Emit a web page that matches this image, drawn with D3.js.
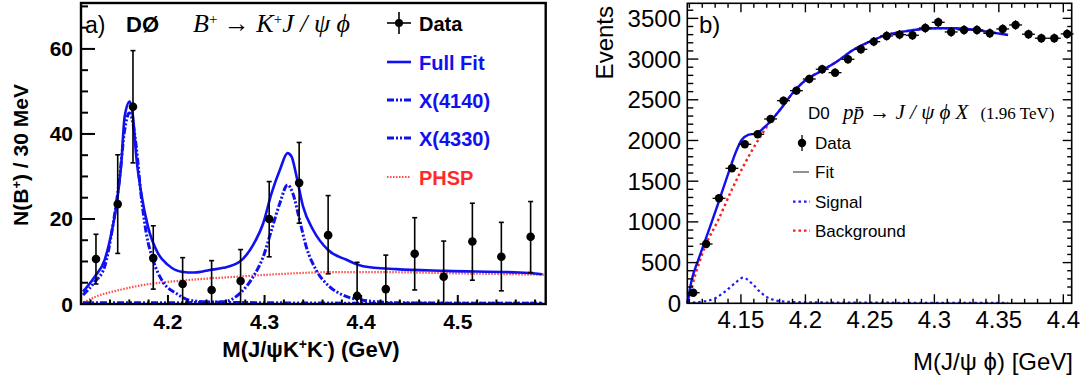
<!DOCTYPE html>
<html><head><meta charset="utf-8">
<script src="https://cdn.jsdelivr.net/npm/d3@7"></script>
<style>
body{margin:0;background:#fff}
svg{display:block}
text{font-family:"Liberation Sans",Arial,Helvetica,sans-serif}
.serif{font-family:"Liberation Serif","DejaVu Serif",serif}
</style>
</head><body>
<svg id="c" width="1082" height="385"></svg>
<script>
// ---------- Panel a data ----------
const aMass   = [4.1255,4.148,4.1638,4.1848,4.2152,4.2452,4.2752,4.3048,4.3358,4.3658,4.3958,4.4255,4.4554,4.4854,4.5151,4.5451,4.5754];
const aCounts = [10.6,23.5,46.4,10.8,4.7,3.3,5.4,20.0,28.5,16.2,1.9,3.5,11.8,6.4,14.7,11.1,15.8];
const aErrHi  = [16.4,35.1,59.6,18.4,10.9,10.2,12.8,28.8,38.0,25.5,9.8,11.5,20.3,14.8,23.7,19.2,24.1];
const aErrLo  = [4.7,11.9,33.2,3.5,0,0,0,11.1,19.0,7.1,0,0,3.3,0,5.6,3.1,7.4];

const aFitM = [4.1121,4.1242,4.1345,4.1414,4.1465,4.1517,4.1552,4.1604,4.1638,4.1672,4.1724,4.1793,4.1897,4.2000,4.2138,4.2276,4.2434,4.2572,4.2745,4.2882,4.2986,4.3072,4.3158,4.3238,4.3279,4.3331,4.3399,4.3503,4.3658,4.3848,4.4020,4.4365,4.4882,4.5640,4.5875];
const aFitV = [2.9,6.4,10.4,16.6,22.9,33.1,44.1,47.6,44.1,34.7,26.0,18.2,11.9,9.2,7.6,7.4,8.0,8.5,10.0,13.9,19.0,26.0,31.5,35.5,34.7,30.0,22.9,17.4,12.7,10.4,8.9,8.2,7.8,7.4,7.0];

const aX4140M = [4.1121,4.1242,4.1345,4.1428,4.1497,4.1552,4.1600,4.1638,4.1672,4.1724,4.1776,4.1845,4.1948,4.2086,4.2224,4.2396,4.30,4.40,4.50,4.5875];
const aX4140V = [2.1,5.2,8.8,18.2,29.2,40.9,44.9,42.5,37.0,25.2,16.6,10.4,5.2,2.5,0.9,0.5,0.3,0.2,0.2,0.2];

const aX4330M = [4.1121,4.20,4.2572,4.2745,4.2882,4.2986,4.3072,4.3158,4.3238,4.3293,4.3362,4.3431,4.3534,4.3672,4.3810,4.4017,4.4365,4.50,4.5875];
const aX4330V = [0.3,0.3,0.5,2.5,6.4,11.1,17.4,23.7,28.0,26.0,19.8,13.5,8.0,4.1,2.1,0.9,0.3,0.2,0.2];

const aPhspM = [4.110,4.125,4.150,4.175,4.200,4.230,4.270,4.320,4.370,4.420,4.500,4.591];
const aPhspV = [0,1.7,3.3,4.5,5.2,5.8,6.4,7.1,7.5,7.5,7.2,6.9];

const aYTicks = [0,20,40,60];
const aXTicks = [4.2,4.3,4.4,4.5];
const aLegend = ["Data","Full Fit","X(4140)","X(4330)","PHSP"];

// ---------- Panel b data ----------
const bMass = [4.113,4.123,4.133,4.143,4.153,4.163,4.173,4.183,4.193,4.203,4.213,4.223,4.233,4.243,4.253,4.263,4.273,4.283,4.293,4.303,4.313,4.323,4.333,4.343,4.353,4.363,4.373,4.383,4.393,4.403];
const bEvents = [130,728,1290,1658,1953,2076,2264,2489,2612,2755,2875,2833,2997,3120,3214,3284,3300,3292,3382,3452,3333,3358,3358,3317,3370,3419,3305,3256,3256,3309];
const bErr = [12,27,36,41,44,46,48,50,51,52,54,53,55,56,57,57,57,57,58,59,58,58,58,58,58,58,57,57,57,58];
const bBinHalf = 0.005;

const bFitM = [4.1084,4.1118,4.1169,4.1247,4.1324,4.1402,4.1467,4.1505,4.1557,4.1622,4.1673,4.1738,4.1800,4.1900,4.2000,4.2112,4.2242,4.2370,4.2500,4.2629,4.2758,4.2888,4.3017,4.3146,4.3275,4.3405,4.3572];
const bFitV = [0,286,532,880,1229,1597,1883,2006,2068,2088,2150,2252,2370,2580,2740,2845,2968,3112,3214,3296,3337,3366,3378,3378,3366,3337,3296];

const bBkgM = [4.1084,4.1150,4.1221,4.1324,4.1428,4.1531,4.1634,4.1738,4.1800,4.1900,4.2000,4.2112,4.2242,4.2370,4.2500,4.2629,4.2758,4.2888,4.3017,4.3146,4.3275,4.3405,4.3572];
const bBkgV = [0,370,695,1023,1392,1720,2006,2252,2370,2580,2740,2845,2968,3112,3214,3296,3337,3366,3378,3378,3366,3337,3296];

const bSigM = [4.1084,4.1195,4.1298,4.1376,4.1453,4.1518,4.1583,4.1660,4.1738,4.1841,4.2000,4.2500,4.3000,4.3572];
const bSigV = [7,20,61,143,246,315,246,123,49,20,12,8,6,5];

const bYTicks = [0,500,1000,1500,2000,2500,3000,3500];
const bXTicks = [4.15,4.2,4.25,4.3,4.35,4.4];
const bXLabels = ["4.15","4.2","4.25","4.3","4.35","4.4"];
const bLegend = ["Data","Fit","Signal","Background"];

// ---------- drawing ----------
const svg = d3.select("#c");
const BLUE = "#1010f0", RED = "#ff2a2a";

// ===== Panel a =====
const ax = d3.scaleLinear().domain([4.110, 4.591]).range([81, 545.7]);
const ay = d3.scaleLinear().domain([0, 70.8]).range([304, 3]);
const ga = svg.append("g");

const lineA = (M, V) => d3.line().x((d,i)=>ax(M[i])).y((d,i)=>ay(V[i])).curve(d3.curveMonotoneX)(M);

ga.append("path").attr("d", lineA(aPhspM, aPhspV)).attr("fill","none").attr("stroke","#ff4a4a").attr("stroke-width",2.2).attr("stroke-dasharray","1.5,1.5");
ga.append("path").attr("d", lineA(aX4330M, aX4330V)).attr("fill","none").attr("stroke",BLUE).attr("stroke-width",3).attr("stroke-dasharray","7,2,2,2,2,2");
ga.append("path").attr("d", lineA(aX4140M, aX4140V)).attr("fill","none").attr("stroke",BLUE).attr("stroke-width",3).attr("stroke-dasharray","7,2,2,2,2,2");
ga.append("path").attr("d", lineA(aFitM, aFitV)).attr("fill","none").attr("stroke",BLUE).attr("stroke-width",2.6);

const da = ga.append("g");
aMass.forEach((m,i)=>{
  const x = ax(m);
  da.append("line").attr("x1",x).attr("x2",x).attr("y1",ay(aErrLo[i])).attr("y2",ay(aErrHi[i])).attr("stroke","#000").attr("stroke-width",1.6);
  da.append("line").attr("x1",x-2.5).attr("x2",x+2.5).attr("y1",ay(aErrHi[i])).attr("y2",ay(aErrHi[i])).attr("stroke","#000").attr("stroke-width",1.6);
  if (aErrLo[i] > 0) da.append("line").attr("x1",x-2.5).attr("x2",x+2.5).attr("y1",ay(aErrLo[i])).attr("y2",ay(aErrLo[i])).attr("stroke","#000").attr("stroke-width",1.6);
  da.append("circle").attr("cx",x).attr("cy",ay(aCounts[i])).attr("r",4.3).attr("fill","#000");
});

ga.append("rect").attr("x",81).attr("y",3).attr("width",545.7-81).attr("height",301).attr("fill","none").attr("stroke","#000").attr("stroke-width",2.4);
d3.range(0, 71, 5).forEach(v=>{
  const major = aYTicks.includes(v);
  ga.append("line").attr("x1",81).attr("x2",81+(major?14:7)).attr("y1",ay(v)).attr("y2",ay(v)).attr("stroke","#000").attr("stroke-width",2);
});
d3.range(4.12, 4.59, 0.02).forEach(v=>{
  const major = aXTicks.some(t=>Math.abs(t-v)<1e-6);
  ga.append("line").attr("x1",ax(v)).attr("x2",ax(v)).attr("y1",304).attr("y2",304-(major?9:4.5)).attr("stroke","#000").attr("stroke-width",2);
});
aYTicks.forEach(v=>{
  ga.append("text").attr("x",73).attr("y",ay(v)+7.5).attr("text-anchor","end").attr("font-weight","bold").attr("font-size",21).text(v);
});
aXTicks.forEach(v=>{
  ga.append("text").attr("x",ax(v)).attr("y",329).attr("text-anchor","middle").attr("font-weight","bold").attr("font-size",21).text(v.toFixed(1));
});

const ylab = ga.append("text").attr("transform","translate(28,155) rotate(-90)").attr("text-anchor","middle").attr("font-weight","bold").attr("font-size",21);
ylab.append("tspan").text("N(B");
ylab.append("tspan").attr("baseline-shift","super").attr("font-size",13).text("+");
ylab.append("tspan").text(") / 30 MeV");

const xlab = ga.append("text").attr("x",311).attr("y",357).attr("text-anchor","middle").attr("font-weight","bold").attr("font-size",22);
xlab.append("tspan").text("M(J/ψK");
xlab.append("tspan").attr("baseline-shift","super").attr("font-size",14).text("+");
xlab.append("tspan").text("K");
xlab.append("tspan").attr("baseline-shift","super").attr("font-size",14).text("-");
xlab.append("tspan").text(") (GeV)");

ga.append("text").attr("x",85).attr("y",33).attr("font-size",23).text("a)");
ga.append("text").attr("x",126).attr("y",32).attr("font-size",22).attr("font-weight","bold").text("DØ");
const fa = ga.append("text").attr("class","serif").attr("x",193).attr("y",32).attr("font-size",26).attr("font-style","italic");
fa.append("tspan").text("B");
fa.append("tspan").attr("baseline-shift","super").attr("font-size",15).attr("font-style","normal").text("+");
fa.append("tspan").attr("font-style","normal").text(" → ");
fa.append("tspan").text("K");
fa.append("tspan").attr("baseline-shift","super").attr("font-size",15).attr("font-style","normal").text("+");
fa.append("tspan").text("J / ψ  ϕ");

const legY = [23, 62, 100, 138, 177];
const legTxtColor = ["#000", BLUE, BLUE, BLUE, RED];
aLegend.forEach((t,i)=>{
  ga.append("text").attr("x",419).attr("y",legY[i]+7.5).attr("font-weight","bold").attr("font-size",20).attr("fill",legTxtColor[i]).text(t);
});
ga.append("line").attr("x1",387).attr("x2",411).attr("y1",legY[0]).attr("y2",legY[0]).attr("stroke","#000").attr("stroke-width",1.6);
ga.append("line").attr("x1",399).attr("x2",399).attr("y1",legY[0]-11).attr("y2",legY[0]+11).attr("stroke","#000").attr("stroke-width",1.6);
ga.append("circle").attr("cx",399).attr("cy",legY[0]).attr("r",4).attr("fill","#000");
ga.append("line").attr("x1",387).attr("x2",411).attr("y1",legY[1]).attr("y2",legY[1]).attr("stroke",BLUE).attr("stroke-width",2.6);
[2,3].forEach(k=>ga.append("line").attr("x1",387).attr("x2",411).attr("y1",legY[k]).attr("y2",legY[k]).attr("stroke",BLUE).attr("stroke-width",3).attr("stroke-dasharray","7,2,2,2,2,2"));
ga.append("line").attr("x1",387).attr("x2",411).attr("y1",legY[4]).attr("y2",legY[4]).attr("stroke","#ff4a4a").attr("stroke-width",2).attr("stroke-dasharray","1.5,1.5");

// ===== Panel b =====
const bx = d3.scaleLinear().domain([4.1084, 4.4065]).range([687.3, 1071.7]);
const by = d3.scaleLinear().domain([0, 3685]).range([303.3, 3.3]);
const gb = svg.append("g");
const lineB = (M, V) => d3.line().x((d,i)=>bx(M[i])).y((d,i)=>by(V[i])).curve(d3.curveMonotoneX)(M);

gb.append("path").attr("d", lineB(bSigM, bSigV)).attr("fill","none").attr("stroke","#1a1aff").attr("stroke-width",2.2).attr("stroke-dasharray","2.5,3");
gb.append("path").attr("d", lineB(bBkgM, bBkgV)).attr("fill","none").attr("stroke","#ff1a1a").attr("stroke-width",2.4).attr("stroke-dasharray","2.5,3");
gb.append("path").attr("d", lineB(bFitM, bFitV)).attr("fill","none").attr("stroke","#1010ee").attr("stroke-width",2.4);

const db = gb.append("g");
bMass.forEach((m,i)=>{
  const x = bx(m), y = by(bEvents[i]);
  db.append("line").attr("x1",bx(m-bBinHalf)).attr("x2",bx(m+bBinHalf)).attr("y1",y).attr("y2",y).attr("stroke","#000").attr("stroke-width",1.3);
  db.append("line").attr("x1",x).attr("x2",x).attr("y1",by(bEvents[i]-bErr[i])).attr("y2",by(bEvents[i]+bErr[i])).attr("stroke","#000").attr("stroke-width",1.3);
  db.append("circle").attr("cx",x).attr("cy",y).attr("r",4.2).attr("fill","#000");
});

gb.append("rect").attr("x",687.3).attr("y",3.3).attr("width",1071.7-687.3).attr("height",300).attr("fill","none").attr("stroke","#000").attr("stroke-width",1.6);
d3.range(0, 3601, 100).forEach(v=>{
  const major = bYTicks.includes(v);
  gb.append("line").attr("x1",687.3).attr("x2",687.3+(major?11:6)).attr("y1",by(v)).attr("y2",by(v)).attr("stroke","#000").attr("stroke-width",1.4);
  gb.append("line").attr("x1",1071.7).attr("x2",1071.7-(major?9:4.5)).attr("y1",by(v)).attr("y2",by(v)).attr("stroke","#000").attr("stroke-width",1.4);
});
d3.range(4.11, 4.4065, 0.01).forEach(v=>{
  const major = bXTicks.some(t=>Math.abs(t-v)<1e-6);
  gb.append("line").attr("x1",bx(v)).attr("x2",bx(v)).attr("y1",303.3).attr("y2",303.3-(major?9:4.5)).attr("stroke","#000").attr("stroke-width",1.4);
  gb.append("line").attr("x1",bx(v)).attr("x2",bx(v)).attr("y1",3.3).attr("y2",3.3+(major?9:4.5)).attr("stroke","#000").attr("stroke-width",1.4);
});
bYTicks.forEach(v=>{
  gb.append("text").attr("x",681).attr("y",by(v)+8.5).attr("text-anchor","end").attr("font-size",24).text(v);
});
bXTicks.forEach((v,i)=>{
  gb.append("text").attr("x",bx(v)).attr("y",328).attr("text-anchor","middle").attr("font-size",24).text(bXLabels[i]);
});
gb.append("text").attr("transform","translate(613,6) rotate(-90)").attr("text-anchor","end").attr("font-size",24).text("Events");
gb.append("text").attr("x",1073).attr("y",370).attr("text-anchor","end").attr("font-size",24).text("M(J/ψ  ϕ) [GeV]");
gb.append("text").attr("x",699).attr("y",33).attr("font-size",24).text("b)");

gb.append("text").attr("x",808).attr("y",119).attr("font-size",17).text("D0");
const fb = gb.append("text").attr("class","serif").attr("x",843).attr("y",119).attr("font-size",21);
fb.append("tspan").attr("font-style","italic").text("pp\u0304 → J / ψ  ϕ X");
fb.append("tspan").attr("dx",12).attr("font-size",17).text("(1.96 TeV)");

const bLegY = [143, 172, 201.7, 230.7];
bLegend.forEach((t,i)=>{
  gb.append("text").attr("x",815).attr("y",bLegY[i]+6).attr("font-size",17).text(t);
});
gb.append("line").attr("x1",802).attr("x2",802).attr("y1",bLegY[0]-8).attr("y2",bLegY[0]+8).attr("stroke","#000").attr("stroke-width",1.3);
gb.append("circle").attr("cx",802).attr("cy",bLegY[0]).attr("r",4.2).attr("fill","#000");
gb.append("line").attr("x1",793).attr("x2",809).attr("y1",bLegY[1]).attr("y2",bLegY[1]).attr("stroke","#555").attr("stroke-width",1.3);
gb.append("line").attr("x1",793).attr("x2",810).attr("y1",bLegY[2]).attr("y2",bLegY[2]).attr("stroke","#1a1aff").attr("stroke-width",2.2).attr("stroke-dasharray","2.5,3");
gb.append("line").attr("x1",793).attr("x2",810).attr("y1",bLegY[3]).attr("y2",bLegY[3]).attr("stroke","#ff1a1a").attr("stroke-width",2.2).attr("stroke-dasharray","2.5,3");
</script>
</body></html>
